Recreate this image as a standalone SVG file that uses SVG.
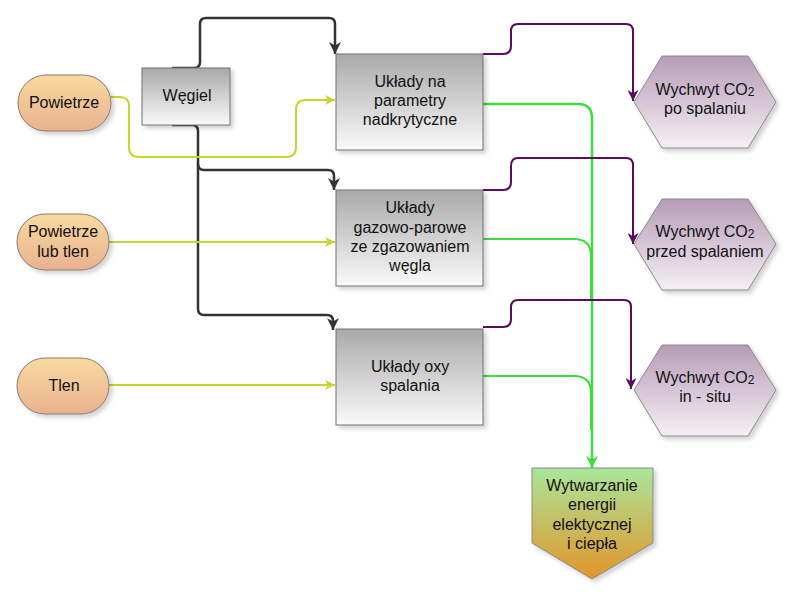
<svg xmlns="http://www.w3.org/2000/svg" width="792" height="600" viewBox="0 0 792 600">
<defs>
<linearGradient id="gBox" x1="0" y1="0" x2="0" y2="1"><stop offset="0" stop-color="#a9a9a9"/><stop offset="1" stop-color="#fafafa"/></linearGradient>
<linearGradient id="gPill" x1="0" y1="0" x2="0" y2="1"><stop offset="0" stop-color="#f9da9f"/><stop offset="1" stop-color="#e9b190"/></linearGradient>
<linearGradient id="gHex" x1="0" y1="0" x2="0" y2="1"><stop offset="0" stop-color="#b79cb8"/><stop offset="1" stop-color="#f5f0f5"/></linearGradient>
<linearGradient id="gOut" x1="0" y1="0" x2="0" y2="1"><stop offset="0" stop-color="#a9e69a"/><stop offset="1" stop-color="#e3952a"/></linearGradient>
<filter id="sh" x="-10%" y="-10%" width="130%" height="130%"><feDropShadow dx="3" dy="3" stdDeviation="2" flood-color="#000" flood-opacity="0.18"/></filter>
<marker id="aK" viewBox="0 0 10 10" refX="10" refY="5" markerWidth="12" markerHeight="12" markerUnits="userSpaceOnUse" orient="auto"><path d="M0,0 L10,5 L0,10 L3,5 z" fill="#333"/></marker>
<marker id="aY" viewBox="0 0 10 10" refX="10" refY="5" markerWidth="10" markerHeight="10" markerUnits="userSpaceOnUse" orient="auto"><path d="M0,0 L10,5 L0,10 L3,5 z" fill="#c5d62c"/></marker>
<marker id="aG" viewBox="0 0 10 10" refX="10" refY="5" markerWidth="12" markerHeight="12" markerUnits="userSpaceOnUse" orient="auto"><path d="M0,0 L10,5 L0,10 L3,5 z" fill="#3ddc3d"/></marker>
<marker id="aP" viewBox="0 0 10 10" refX="10" refY="5" markerWidth="11" markerHeight="11" markerUnits="userSpaceOnUse" orient="auto"><path d="M0,0 L10,5 L0,10 L3,5 z" fill="#5a0e5a"/></marker>
</defs>
<style>
text{font-family:"Liberation Sans",Arial,sans-serif;font-size:16px;fill:#111;text-anchor:middle}
.box{fill:url(#gBox);stroke:#707070;stroke-width:1;filter:url(#sh)}
.pill{fill:url(#gPill);stroke:#8c7a6c;stroke-width:1;filter:url(#sh)}
.hex{fill:url(#gHex);stroke:#8a8a8a;stroke-width:1;filter:url(#sh)}
.out{fill:url(#gOut);stroke:#8a8a8a;stroke-width:1;filter:url(#sh)}
.k{fill:none;stroke:#333;stroke-width:2.5;marker-end:url(#aK)}
.y{fill:none;stroke:#c5d62c;stroke-width:2;marker-end:url(#aY)}
.g{fill:none;stroke:#3ddc3d;stroke-width:2}
.ga{fill:none;stroke:#3ddc3d;stroke-width:2.5;marker-end:url(#aG)}
.p{fill:none;stroke:#5a0e5a;stroke-width:2;marker-end:url(#aP)}
.sub{font-size:12px}
</style>
<g id="connectors">
<path class="k" d="M172,68 H194 Q200,68 200,62 V24 Q200,18 206,18 H329 Q335,18 335,24 V54"/>
<path class="k" d="M172,125 H192 Q198,125 198,131 V164 Q198,170 204,170 H328 Q334,170 334,176 V190"/>
<path class="k" d="M198,164 V309 Q198,315 204,315 H327 Q333,315 333,321 V330"/>
<path class="y" d="M111,97 H120 Q129,97 129,106 V147 Q129,157 139,157 H286 Q296,157 296,147 V110 Q296,100 306,100 H335"/>
<path class="y" d="M109,242 H335"/>
<path class="y" d="M109,385 H335"/>
<path class="ga" d="M483,104 H578 Q592,104 592,118 V468"/>
<path class="g" d="M483,239 H574 Q591,239 591,256 V300"/>
<path class="g" d="M483,376 H574 Q591,376 591,393 V430"/>
<path class="p" d="M483,54 H503 Q511,54 511,46 V31 Q511,24 518,24 H626 Q633,24 633,31 V101"/>
<path class="p" d="M483,190 H503 Q511,190 511,182 V166 Q511,158 518,158 H626 Q633,158 633,165 V244"/>
<path class="p" d="M483,327 H503 Q511,327 511,319 V307 Q511,300 518,300 H624 Q631,300 631,307 V389"/>
</g>
<g id="powietrze">
<rect class="pill" x="18" y="75" width="93" height="56" rx="28" ry="28"/>
<text x="64" y="108">Powietrze</text>
</g>
<g id="wegiel">
<rect class="box" x="142" y="68" width="88" height="57"/>
<text x="187" y="101">Węgiel</text>
</g>
<g id="powietrze-lub-tlen">
<rect class="pill" x="17" y="214" width="92" height="56" rx="28" ry="28"/>
<text x="63" y="237">Powietrze</text>
<text x="63" y="257">lub tlen</text>
</g>
<g id="tlen">
<rect class="pill" x="17" y="358" width="92" height="56" rx="28" ry="28"/>
<text x="64" y="391">Tlen</text>
</g>
<g id="uklady-nadkrytyczne">
<rect class="box" x="336" y="54" width="147" height="96"/>
<text x="410" y="87">Układy na</text>
<text x="410" y="106">parametry</text>
<text x="410" y="125">nadkrytyczne</text>
</g>
<g id="uklady-gazowo-parowe">
<rect class="box" x="336" y="190" width="147" height="96"/>
<text x="410" y="213">Układy</text>
<text x="410" y="233">gazowo-parowe</text>
<text x="410" y="252">ze zgazowaniem</text>
<text x="410" y="271">węgla</text>
</g>
<g id="uklady-oxy">
<rect class="box" x="336" y="329" width="147" height="96"/>
<text x="410" y="372">Układy oxy</text>
<text x="410" y="391">spalania</text>
</g>
<g id="wychwyt-po">
<polygon class="hex" points="634,102 662,56 748,56 776,102 748,148 662,148"/>
<text x="705" y="95">Wychwyt CO<tspan class="sub" dy="1">2</tspan></text>
<text x="705" y="114">po spalaniu</text>
</g>
<g id="wychwyt-przed">
<polygon class="hex" points="634,244 662,199 748,199 776,244 748,290 662,290"/>
<text x="705" y="237">Wychwyt CO<tspan class="sub" dy="1">2</tspan></text>
<text x="705" y="257">przed spalaniem</text>
</g>
<g id="wychwyt-in-situ">
<polygon class="hex" points="634,390 662,345 748,345 776,390 748,436 662,436"/>
<text x="705" y="383">Wychwyt CO<tspan class="sub" dy="1">2</tspan></text>
<text x="705" y="402">in - situ</text>
</g>
<g id="wytwarzanie">
<polygon class="out" points="532,468 653,468 653,543 592,579 532,543"/>
<text x="592" y="491">Wytwarzanie</text>
<text x="592" y="510">energii</text>
<text x="592" y="530">elektycznej</text>
<text x="592" y="549">i ciepła</text>
</g>
</svg>
